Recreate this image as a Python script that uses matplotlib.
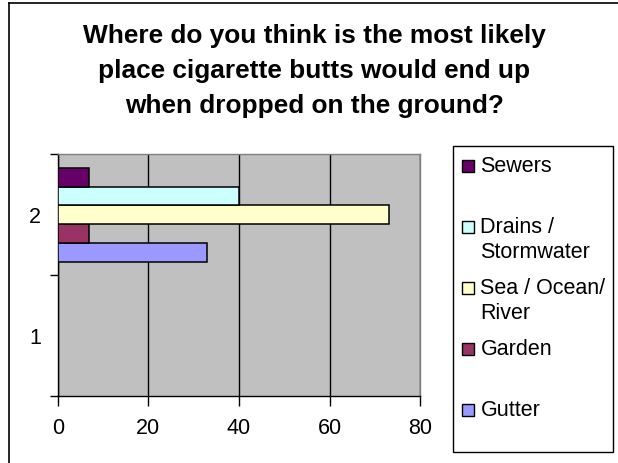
import matplotlib
matplotlib.use('Agg')
import matplotlib.pyplot as plt
from matplotlib.lines import Line2D
from matplotlib.patches import Rectangle

plt.rcParams['font.family'] = ['Liberation Sans', 'DejaVu Sans']

# data (category 1 carries no visible bars)
categories = ['1', '2']
series_names = ['Gutter', 'Garden', 'Sea / Ocean/\nRiver', 'Drains /\nStormwater', 'Sewers']
series_values = {
    'Gutter': [0, 33],
    'Garden': [0, 7],
    'Sea / Ocean/\nRiver': [0, 73],
    'Drains /\nStormwater': [0, 40],
    'Sewers': [0, 7],
}
series_colors = ['#9999FF', '#993366', '#FFFFCC', '#CCFFFF', '#660066']
x_ticks = [0, 20, 40, 60, 80]

W, H = 618, 463
fig = plt.figure(figsize=(W / 100, H / 100), dpi=100)
fig.patch.set_facecolor('white')


def fx(px):
    return px / W


def fy(py):
    return 1 - py / H


ax = fig.add_axes([fx(57.7), fy(396), fx(420.3) - fx(57.7), fy(154.3) - fy(396)])
ax.set_facecolor('#C0C0C0')

bar_h = 0.155
n = len(series_names)
positions = list(range(1, len(categories) + 1))
for i, name in enumerate(series_names):
    offs = (i - (n - 1) / 2) * bar_h
    ax.barh([p + offs for p in positions], series_values[name], height=bar_h,
            color=series_colors[i], edgecolor='black', linewidth=1.1, zorder=3)

ax.set_xlim(0, 80)
ax.set_ylim(0.5, len(categories) + 0.5)
ax.set_xticks(x_ticks)
ax.set_xticklabels([str(t) for t in x_ticks])
ax.xaxis.grid(True, color='black', linewidth=1, zorder=1)
ax.set_axisbelow(True)

ax.set_yticks([0.5, 1.5, 2.5])
ax.set_yticklabels([])
ax.set_yticks(positions, minor=True)
ax.set_yticklabels(categories, minor=True)
ax.tick_params(axis='y', which='major', length=6, width=1, color='black', direction='out')
ax.tick_params(axis='y', which='minor', length=0, pad=12, labelsize=15.5)
ax.tick_params(axis='x', length=7, width=1, direction='out', pad=8.5, labelsize=15.5)

for s in ['left', 'bottom']:
    ax.spines[s].set_color('black')
    ax.spines[s].set_linewidth(1)
for s in ['top', 'right']:
    ax.spines[s].set_color('#808080')
    ax.spines[s].set_linewidth(1)

# title
fig.text(fx(314.5), fy(23.5), 'Where do you think is the most likely\nplace cigarette butts would end up\nwhen dropped on the ground?',
         ha='center', va='top', fontsize=18.9, fontweight='bold', linespacing=1.58)

# outer chart border (left and top edges visible)
fig.add_artist(Line2D([fx(9), fx(9)], [fy(3), 0], color='black', linewidth=1.2))
fig.add_artist(Line2D([fx(9), 1], [fy(3), fy(3)], color='black', linewidth=1.2))

# legend box, drawn Excel style: each entry gets a two-line slot
fig.add_artist(Rectangle((fx(453.3), fy(452.3)), fx(613.3) - fx(453.3), fy(146) - fy(452.3),
                         transform=fig.transFigure, facecolor='white', edgecolor='black', linewidth=1))
first_line = 164
slot = 61
for j, name in enumerate(reversed(series_names)):
    color = series_colors[n - 1 - j]
    yc = first_line + j * slot
    fig.add_artist(Rectangle((fx(462), fy(yc + 7.5)), fx(11.5), fy(0) - fy(11.5),
                             transform=fig.transFigure, facecolor=color, edgecolor='black', linewidth=1))
    fig.text(fx(480.5), fy(yc - 8), name, ha='left', va='top', fontsize=15.5, linespacing=1.25)

fig.savefig('out.png', dpi=100)
